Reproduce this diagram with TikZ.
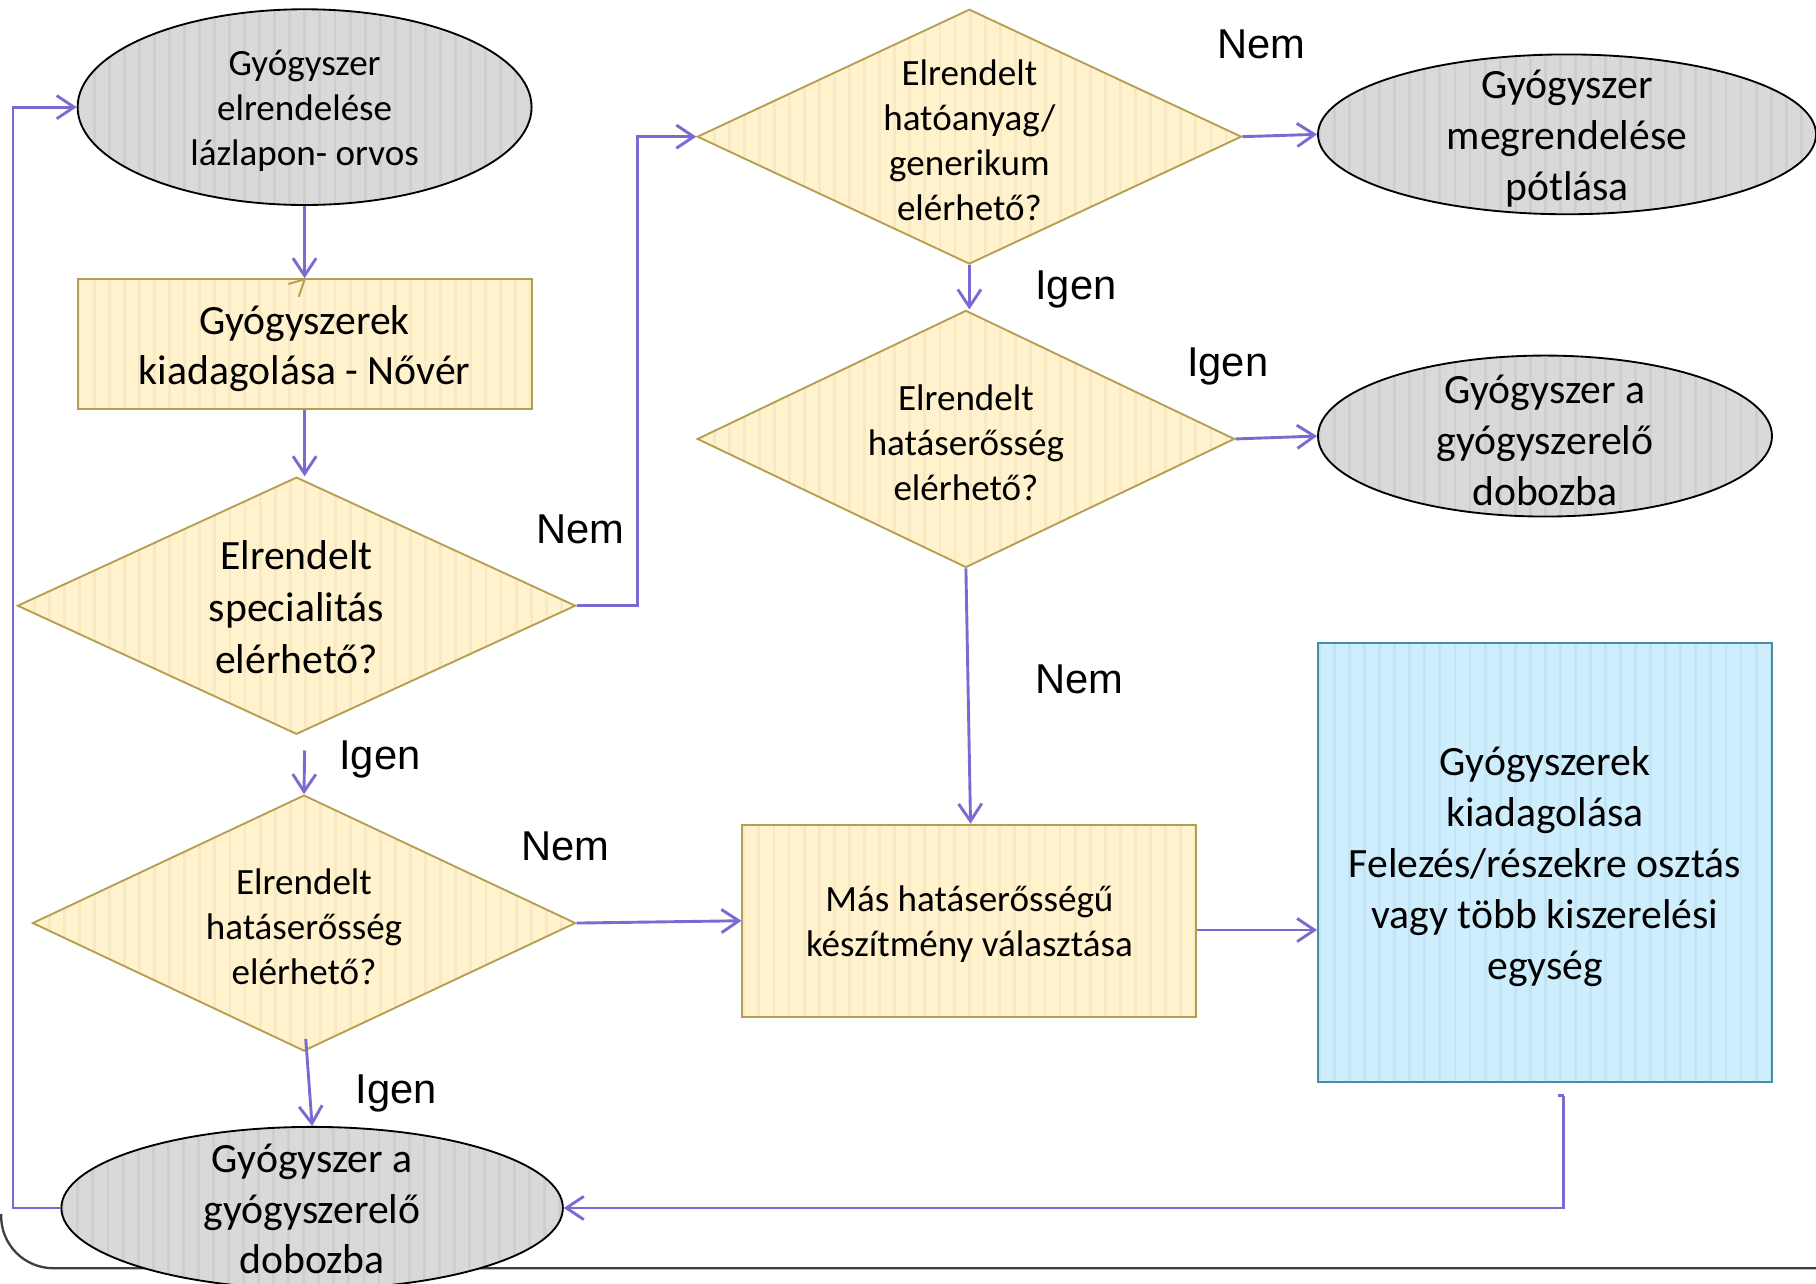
\documentclass[tikz,border=0pt]{standalone}
\usepackage{fontspec}
\setmainfont{Carlito}
\newfontfamily\labfont{Liberation Sans}
\usetikzlibrary{shapes.geometric,arrows.meta,calc}
\definecolor{conn}{RGB}{125,105,210}
\definecolor{grayfill}{RGB}{217,217,217}
\definecolor{graystripe}{RGB}{206,206,206}
\definecolor{yelfill}{RGB}{255,242,204}
\definecolor{yelstripe}{RGB}{246,233,195}
\definecolor{yeldraw}{RGB}{180,158,80}
\definecolor{bluefill}{RGB}{207,238,253}
\definecolor{bluestripe}{RGB}{195,228,245}
\definecolor{bluedraw}{RGB}{74,140,164}
\definecolor{framecol}{RGB}{64,64,64}
\tikzset{
  stripes/.style={path picture={\foreach \i in {0,13,...,660}{\fill[#1] ([xshift=\i pt]path picture bounding box.south west) rectangle ++(2.5pt,800pt);}}},
  t32/.style={label={[align=center,yshift=-3pt,font=\fontsize{32}{38.8}\selectfont]center:#1}},
  t36/.style={label={[align=center,yshift=-4pt,font=\fontsize{36}{44}\selectfont]center:#1}},
  gell/.style={ellipse,draw=black,line width=1.6pt,fill=grayfill,stripes=graystripe,inner sep=0pt},
  ybox/.style={rectangle,draw=yeldraw,line width=1.6pt,fill=yelfill,stripes=yelstripe,inner sep=0pt},
  ydia/.style={diamond,draw=yeldraw,line width=1.6pt,fill=yelfill,stripes=yelstripe,inner sep=0pt},
  bbox/.style={rectangle,draw=bluedraw,line width=1.6pt,fill=bluefill,stripes=bluestripe,inner sep=0pt},
  arr/.style={draw=conn,line width=2.5pt,-{Straight Barb[length=15pt,width=20pt]}},
  plain/.style={draw=conn,line width=2.5pt},
  lab/.style={font=\labfont\fontsize{36}{42}\selectfont,inner sep=0pt}
}
\begin{document}
\begin{tikzpicture}[x=1pt,y=-1pt]
\useasboundingbox (0,0) rectangle (1568,1108);
\fill[white] (0,0) rectangle (1568,1108);

% frame corner
\draw[framecol,line width=2pt,rounded corners=45pt] (1,1048) -- (1,1095) -- (1600,1095);

% nodes
\node[gell,minimum width=392pt,minimum height=169pt,t32={Gyógyszer\\elrendelése\\lázlapon- orvos}] (E1) at (263,92.5) {};
\node[ybox,minimum width=392pt,minimum height=112pt,t36={Gyógyszerek\\kiadagolása - Nővér}] (R1) at (263,297) {};
\node[ydia,minimum width=482pt,minimum height=222pt,label={[align=center,yshift=-1pt,font=\fontsize{36}{45}\selectfont]center:{Elrendelt\\specialitás\\elérhető?}}] (D1) at (256,523) {};
\node[ydia,minimum width=469pt,minimum height=221pt,t32={Elrendelt\\hatáserősség\\elérhető?}] (D2) at (262.5,797) {};
\node[gell,minimum width=433pt,minimum height=140pt,label={[align=center,yshift=-1pt,font=\fontsize{36}{43.5}\selectfont]center:{Gyógyszer a\\gyógyszerelő\\dobozba}}] (E2) at (269.5,1043) {};
\node[ydia,minimum width=470pt,minimum height=220pt,t32={Elrendelt\\hatóanyag/\\generikum\\elérhető?}] (D3) at (837,118) {};
\node[ydia,minimum width=464pt,minimum height=222pt,t32={Elrendelt\\hatáserősség\\elérhető?}] (D4) at (834,379) {};
\node[gell,minimum width=430pt,minimum height=138pt,t36={Gyógyszer\\megrendelése\\pótlása}] (E3) at (1353,116) {};
\node[gell,minimum width=392pt,minimum height=139pt,t36={Gyógyszer a\\gyógyszerelő\\dobozba}] (E4) at (1334,376.5) {};
\node[ybox,minimum width=392pt,minimum height=166pt,t32={Más hatáserősségű\\készítmény választása}] (R2) at (837,795) {};
\node[bbox,minimum width=392pt,minimum height=379pt,t36={Gyógyszerek\\kiadagolása\\Felezés/részekre osztás\\vagy több kiszerelési\\egység}] (R3) at (1334,744.5) {};

% small olive mark on R1
\draw[yeldraw,line width=1.6pt] ($(R1.north)+(-5,16)$) -- ($(R1.north)+(0,1)$) -- ($(R1.north)+(-14,5)$);

% free coordinates
\coordinate (dstart) at (263,648);
\coordinate (fstart) at (264,897);
\coordinate (hstart) at (1350,946);

% connectors
\draw[arr] (E1.south) -- (R1.north);
\draw[arr] (R1.south) -- (R1.south |- D1.north);
\draw[arr] (D1.east) -- ++(53,0) |- (D3.west);
\draw[arr] (dstart) -- (D2.north);
\draw[arr] (D2.east) -- (R2.west);
\draw[arr] (fstart) -- (E2.north);
\draw[arr] (E2.west) -- ++(-41,0) |- (E1.west);
\draw[plain] ($(hstart)+(-5,0)$) -- (hstart);
\draw[arr] (hstart) -- (hstart |- E2.east) -- (E2.east);
\draw[arr] (D3.east) -- (E3.west);
\draw[arr] (D3.south) -- (D3.south |- D4.north);
\draw[arr] (D4.east) -- (E4.west);
\draw[arr] (D4.south) -- ($(R2.north)+(1,0)$);
\draw[arr] ([yshift=-8pt]R2.east) -- ([yshift=-8pt]R2.east -| R3.west);

% labels
\node[lab] (l1) at (501,457) {Nem};
\node[lab] (l2) at (328,656) {Igen};
\node[lab] (l3) at (488,731) {Nem};
\node[lab] (l4) at (342,944) {Igen};
\node[lab] (l5) at (1089,38) {Nem};
\node[lab] (l6) at (929,250) {Igen};
\node[lab] (l7) at (1060,316) {Igen};
\node[lab] (l8) at (932,587) {Nem};
\end{tikzpicture}
\end{document}
